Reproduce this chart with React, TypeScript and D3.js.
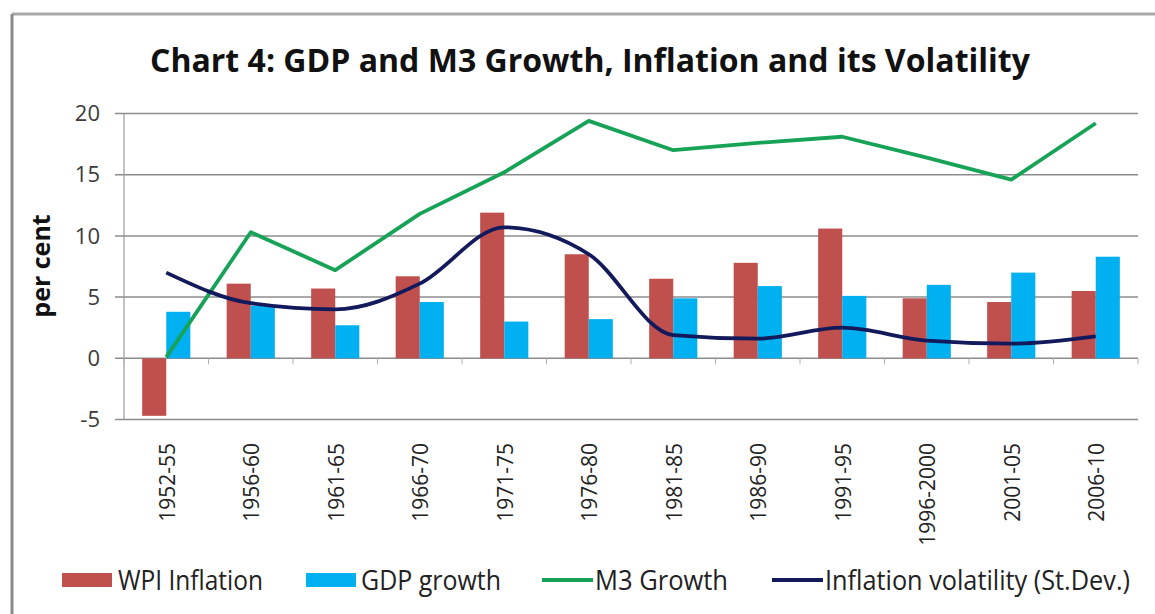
import React from "react";
import * as d3 from "d3";

const categories = ["1952-55","1956-60","1961-65","1966-70","1971-75","1976-80","1981-85","1986-90","1991-95","1996-2000","2001-05","2006-10"];
const wpiInflation = [-4.7, 6.1, 5.7, 6.7, 11.9, 8.5, 6.5, 7.8, 10.6, 4.9, 4.6, 5.5];
const gdpGrowth = [3.8, 4.3, 2.7, 4.6, 3.0, 3.2, 4.9, 5.9, 5.1, 6.0, 7.0, 8.3];
const m3Growth = [0.1, 10.3, 7.2, 11.8, 15.2, 19.4, 17.0, 17.6, 18.1, 16.4, 14.6, 19.2];
const inflationVolatility = [7.0, 4.5, 4.0, 6.1, 10.7, 8.5, 1.9, 1.6, 2.5, 1.45, 1.2, 1.8];
const yTicks = [-5, 0, 5, 10, 15, 20];

const W = 1155, H = 614;
const FONT = "'Open Sans', 'Noto Sans', sans-serif";

export default function App() {
  const x0 = d3.scaleBand<string>().domain(categories).range([124, 1138]).paddingInner(0.43).paddingOuter(0.215);
  const x1 = d3.scaleBand<string>().domain(["wpi", "gdp"]).range([0, x0.bandwidth()]);
  const y = d3.scaleLinear().domain([-5, 20]).range([419.5, 113.5]);
  const cx = (c: string) => (x0(c) as number) + x0.bandwidth() / 2;

  const step = x0.step();
  const left = 124, right = 1138;

  const m3Line = d3.line<number>().x((_, i) => cx(categories[i])).y(d => y(d));
  const volLine = d3.line<number>().x((_, i) => cx(categories[i])).y(d => y(d)).curve(d3.curveMonotoneX);

  const colors = { wpi: "#C0504D", gdp: "#00B0F0", m3: "#17A357", vol: "#131A5C" };

  const legend = [
    { type: "rect", color: colors.wpi, label: "WPI Inflation", sx: 62, tx: 118, tw: 145 },
    { type: "rect", color: colors.gdp, label: "GDP growth", sx: 306, tx: 361, tw: 140 },
    { type: "line", color: colors.m3, label: "M3 Growth", sx: 542, tx: 595, tw: 133 },
    { type: "line", color: colors.vol, label: "Inflation volatility (St.Dev.)", sx: 772, tx: 825, tw: 305 },
  ];

  return (
    <svg width={W} height={H} style={{ position: "absolute", left: 0, top: 0, background: "#fff" }} fontFamily={FONT}>
      <rect x={0} y={0} width={W} height={H} fill="#fff" />
      {/* border */}
      <line x1={12} y1={14} x2={W} y2={14} stroke="#a8a8a8" strokeWidth={3} />
      <line x1={12} y1={14} x2={12} y2={H} stroke="#8a8a8a" strokeWidth={3} />

      {/* title */}
      <text x={590} y={72} textAnchor="middle" fontSize={32} fontWeight="bold" fill="#111"
        textLength={880} lengthAdjust="spacingAndGlyphs">Chart 4: GDP and M3 Growth, Inflation and its Volatility</text>

      {/* gridlines & y ticks */}
      {yTicks.map(t => (
        <g key={t}>
          <line x1={115} x2={right} y1={y(t)} y2={y(t)} stroke="#8c8c8c" strokeWidth={1.5} />
          <text x={100} y={y(t)} dy="0.35em" textAnchor="end" fontSize={22} fill="#3a3a3a">{t}</text>
        </g>
      ))}
      <line x1={left} x2={left} y1={y(20)} y2={y(-5)} stroke="#9a9a9a" strokeWidth={1.2} />

      {/* category ticks on zero axis */}
      {d3.range(categories.length + 1).map(i => (
        <line key={i} x1={left + i * step} x2={left + i * step} y1={y(0)} y2={y(0) + 6} stroke="#b0b0b0" strokeWidth={1} />
      ))}

      {/* y label */}
      <text transform={`translate(50,266) rotate(-90)`} textAnchor="middle" fontSize={25} fontWeight="bold" fill="#111">per cent</text>

      {/* bars */}
      {categories.map((c, i) => (
        <g key={c}>
          <rect x={(x0(c) as number) + (x1("wpi") as number)} width={x1.bandwidth()}
            y={y(Math.max(0, wpiInflation[i]))} height={Math.abs(y(wpiInflation[i]) - y(0))} fill={colors.wpi} />
          <rect x={(x0(c) as number) + (x1("gdp") as number)} width={x1.bandwidth()}
            y={y(Math.max(0, gdpGrowth[i]))} height={Math.abs(y(gdpGrowth[i]) - y(0))} fill={colors.gdp} />
        </g>
      ))}

      {/* lines */}
      <path d={m3Line(m3Growth) as string} fill="none" stroke={colors.m3} strokeWidth={3.8} strokeLinejoin="round" />
      <path d={volLine(inflationVolatility) as string} fill="none" stroke={colors.vol} strokeWidth={3.8} strokeLinejoin="round" />

      {/* x labels */}
      {categories.map(c => (
        <text key={c} transform={`translate(${cx(c) + 1},443) rotate(-90)`} dy="0.35em" textAnchor="end" fontSize={21} fill="#222">{c}</text>
      ))}

      {/* legend */}
      {legend.map(l => (
        <g key={l.label}>
          {l.type === "rect"
            ? <rect x={l.sx} y={573} width={50} height={14} fill={l.color} />
            : <line x1={l.sx} x2={l.sx + 51} y1={580} y2={580} stroke={l.color} strokeWidth={4} />}
          <text x={l.tx} y={590} fontSize={27} fill="#222" textLength={l.tw} lengthAdjust="spacingAndGlyphs">{l.label}</text>
        </g>
      ))}
    </svg>
  );
}
